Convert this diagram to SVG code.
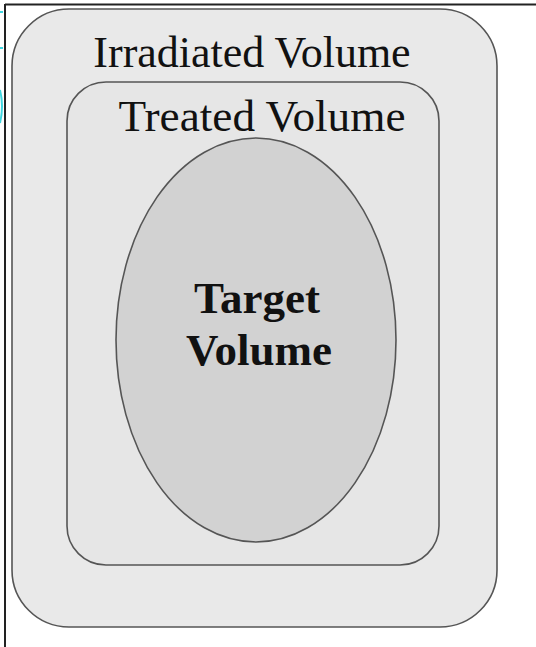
<svg xmlns="http://www.w3.org/2000/svg" width="536" height="647" viewBox="0 0 536 647">
<style>
.vol{stroke:#555;stroke-width:1.6}
.lbl{font-family:"Liberation Serif","Times New Roman",serif;font-size:44px;fill:#111;text-anchor:middle}
.bold{font-weight:bold;font-size:45px}
</style>
<rect x="0" y="0" width="536" height="647" fill="#fff"/>
<g id="frame">
<line x1="5" y1="4.5" x2="536" y2="4.5" stroke="#222" stroke-width="2"/>
<line x1="5" y1="4" x2="5" y2="647" stroke="#222" stroke-width="2"/>
<path d="M0 12 H3 M0 48 H3 M0 90 Q4 106 0 123" fill="none" stroke="#3dd6e0" stroke-width="2"/>
</g>
<g id="irradiated">
<rect class="vol" x="12" y="9" width="485" height="618" rx="57" ry="57" fill="#e9e9e9"/>
<text class="lbl" x="252" y="67">Irradiated Volume</text>
</g>
<g id="treated">
<rect class="vol" x="67" y="82" width="372" height="483" rx="39" ry="39" fill="#e6e6e6"/>
<text class="lbl" x="262" y="131" textLength="287" lengthAdjust="spacingAndGlyphs">Treated Volume</text>
</g>
<g id="target">
<ellipse class="vol" cx="256" cy="340" rx="140" ry="202" fill="#d2d2d2"/>
<text class="lbl bold" x="257" y="313">Target</text>
<text class="lbl bold" x="259" y="365">Volume</text>
</g>
<g id="connectors"/>
</svg>
